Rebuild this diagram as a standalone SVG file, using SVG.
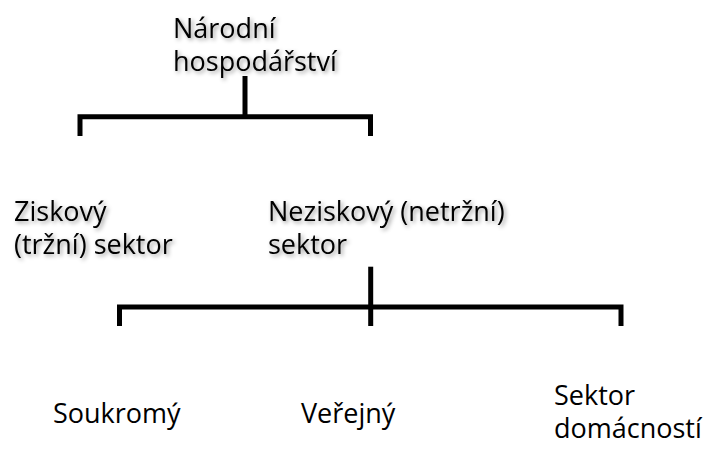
<svg xmlns="http://www.w3.org/2000/svg" width="712" height="452" viewBox="0 0 712 452">
  <defs>
    <filter id="shadow" x="-10%" y="-20%" width="130%" height="150%">
      <feDropShadow dx="2" dy="2" stdDeviation="2" flood-color="#000" flood-opacity="0.4"/>
    </filter>
  </defs>
  <style>
    .t { font-family: "Open Sans", "Noto Sans", "DejaVu Sans", sans-serif; font-size: 27px; fill: #000; }
    .sh { filter: url(#shadow); }
    .ln { fill: none; stroke: #000; stroke-width: 5; stroke-linejoin: miter; stroke-linecap: butt; }
  </style>
  <rect width="712" height="452" fill="#fff"/>
  <g id="connectors">
    <line class="ln" x1="245" y1="76" x2="245" y2="116.7"/>
    <polyline class="ln" points="80,136 80,116.7 370.5,116.7 370.5,136"/>
    <line class="ln" x1="370.7" y1="266.7" x2="370.7" y2="326"/>
    <polyline class="ln" points="119.5,326 119.5,307 621,307 621,326"/>
  </g>
  <g id="narodni">
    <text class="t sh" x="173" y="38"><tspan x="173">Národní</tspan><tspan x="173" y="71">hospodářství</tspan></text>
  </g>
  <g id="ziskovy">
    <text class="t sh" x="14" y="221"><tspan x="14">Ziskový</tspan><tspan x="14" y="254">(tržní) sektor</tspan></text>
  </g>
  <g id="neziskovy">
    <text class="t sh" x="268" y="221"><tspan x="268">Neziskový (netržní)</tspan><tspan x="268" y="254">sektor</tspan></text>
  </g>
  <g id="soukromy">
    <text class="t" x="53" y="423">Soukromý</text>
  </g>
  <g id="verejny">
    <text class="t" x="301" y="423">Veřejný</text>
  </g>
  <g id="domacnosti">
    <text class="t" x="554" y="405"><tspan x="554">Sektor</tspan><tspan x="554" y="438">domácností</tspan></text>
  </g>
</svg>
